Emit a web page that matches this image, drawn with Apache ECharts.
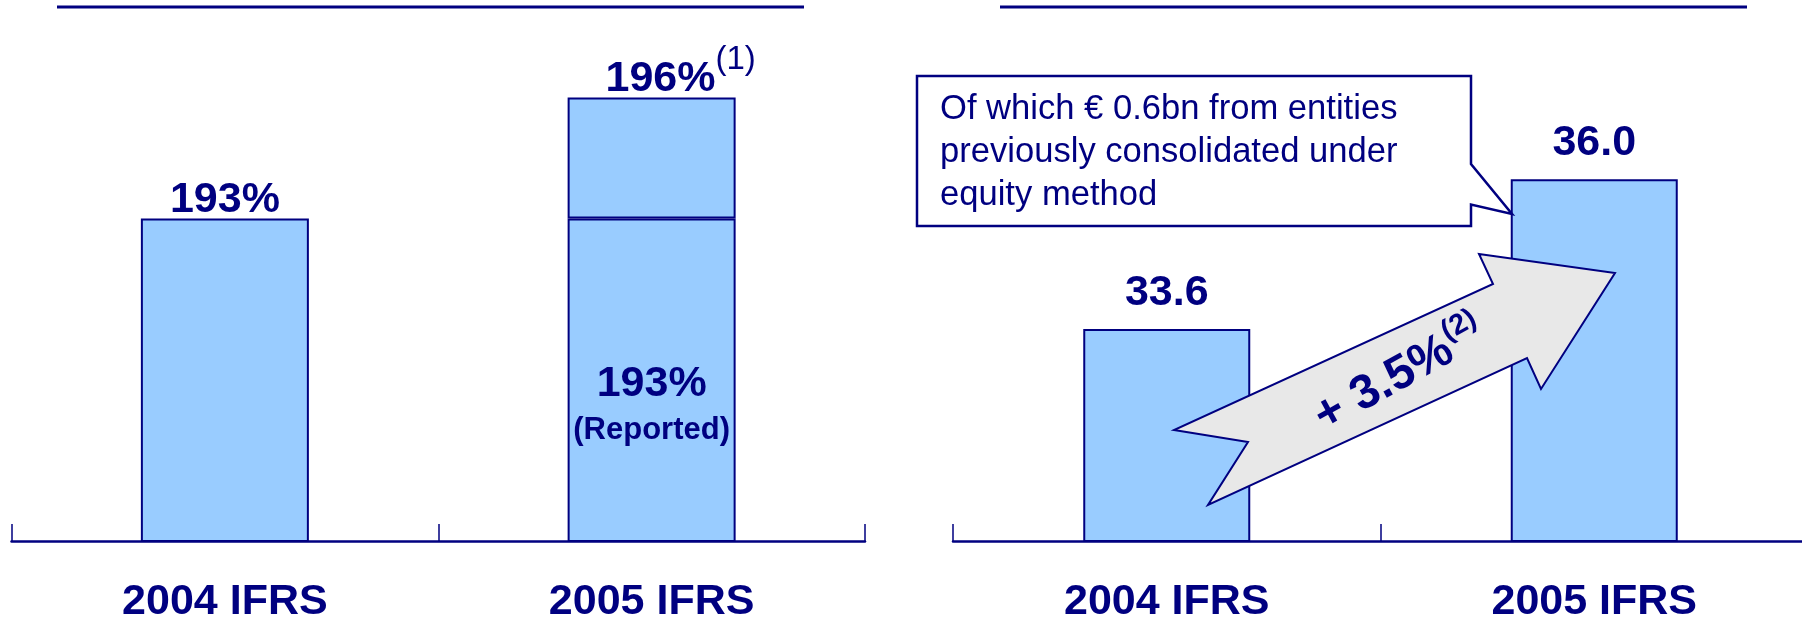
<!DOCTYPE html>
<html>
<head>
<meta charset="utf-8">
<title>Ratio and revenue 2004-2005 IFRS</title>
<script src="https://cdn.jsdelivr.net/npm/echarts@6.0.0/dist/echarts.min.js"></script>
<style>
  html, body { margin: 0; padding: 0; background: #fff; }
  #chart { width: 1802px; height: 619px; }
</style>
</head>
<body>
<div id="chart"></div>
<script>
// data
const categories = ['2004 IFRS', '2005 IFRS'];
const ratioReported = [193, 193];   // %
const ratioTotal = [193, 196];      // % incl. adjustment (1)
const revenue = [33.6, 36.0];       // € bn
const growthLabel = '+ 3.5%';
const growthNote = '(2)';
const ratioNote = '(1)';
const calloutLines = [
  'Of which € 0.6bn from entities',
  'previously consolidated under',
  'equity method'
];

const NAVY = '#000080';
const FILL = '#99ccff';
const FONT = '"Liberation Sans", Arial, sans-serif';

const chart = echarts.init(document.getElementById('chart'));

const barStyle = { color: FILL, borderColor: NAVY, borderWidth: 2 };
const bigLabel = { fontSize: 43, fontWeight: 'bold', color: NAVY, fontFamily: FONT };

const xAxisBase = {
  type: 'category',
  data: categories,
  axisLine: { lineStyle: { color: NAVY, width: 2.5 } },
  axisTick: { show: true, inside: true, length: 17, alignWithLabel: false, lineStyle: { color: NAVY, width: 1.5 } },
  axisLabel: Object.assign({ margin: 40 }, bigLabel)
};

// bottom (reported) part of the ratio bars
const reportedData = ratioReported.map((v, i) => {
  if (ratioTotal[i] > v) {
    return {
      value: v,
      label: {
        show: true,
        position: 'inside',
        offset: [0, 26],
        formatter: '{a|' + v + '%}\n{b|(Reported)}',
        rich: {
          a: Object.assign({ lineHeight: 48 }, bigLabel),
          b: { fontSize: 31, fontWeight: 'bold', color: NAVY, fontFamily: FONT, lineHeight: 44 }
        }
      }
    };
  }
  return {
    value: v,
    label: { show: true, position: 'top', distance: -3, formatter: v + '%', lineHeight: 42 }
  };
});

// top (extra) part of the ratio bars
const extraData = ratioTotal.map((v, i) => {
  const d = v - ratioReported[i];
  if (d <= 0) return '-';
  return {
    value: d,
    label: {
      show: true,
      position: 'top',
      distance: 5,
      offset: [29, 23],
      formatter: '{a|' + v + '%}{s|' + ratioNote + '}',
      rich: {
        a: Object.assign({ lineHeight: 72 }, bigLabel),
        s: { fontSize: 33, fontWeight: 'normal', color: NAVY, fontFamily: FONT, lineHeight: 72, verticalAlign: 'top' }
      }
    }
  };
});

const option = {
  animation: false,
  backgroundColor: '#fff',
  grid: [
    { left: 11.5, top: 17, width: 853.5, height: 524, containLabel: false, outerBoundsMode: 'none' },
    { left: 953, top: 17, width: 855, height: 524, containLabel: false, outerBoundsMode: 'none' }
  ],
  xAxis: [
    Object.assign({ gridIndex: 0 }, xAxisBase),
    Object.assign({ gridIndex: 1 }, xAxisBase)
  ],
  yAxis: [
    { gridIndex: 0, type: 'value', min: 185, max: 198, show: false, splitLine: { show: false } },
    { gridIndex: 1, type: 'value', min: 30.2, max: 38.6, show: false, splitLine: { show: false } }
  ],
  series: [
    {
      type: 'bar', xAxisIndex: 0, yAxisIndex: 0, stack: 'ratio',
      barWidth: 168, itemStyle: barStyle,
      label: bigLabel,
      data: reportedData
    },
    {
      type: 'bar', xAxisIndex: 0, yAxisIndex: 0, stack: 'ratio',
      barWidth: 168, itemStyle: barStyle,
      label: bigLabel,
      data: extraData
    },
    {
      type: 'bar', xAxisIndex: 1, yAxisIndex: 1,
      barWidth: 167, itemStyle: barStyle,
      label: Object.assign({
        show: true, position: 'top', distance: 15, lineHeight: 42,
        formatter: p => p.value.toFixed(1)
      }, bigLabel),
      data: revenue
    }
  ],
  graphic: [
    // header rules
    { type: 'line', shape: { x1: 57, y1: 7, x2: 804, y2: 7 }, style: { stroke: NAVY, lineWidth: 3 } },
    { type: 'line', shape: { x1: 1000, y1: 7, x2: 1747, y2: 7 }, style: { stroke: NAVY, lineWidth: 3 } },
    // callout box
    {
      type: 'polygon', z: 100,
      shape: { points: [[917, 76], [1471, 76], [1471, 164], [1512, 214], [1471, 204.5], [1471, 226], [917, 226]] },
      style: { fill: '#fff', stroke: NAVY, lineWidth: 2.5 }
    },
    {
      type: 'text', z: 101, x: 940, y: 88,
      style: {
        text: calloutLines.join('\n'), fill: NAVY, fontSize: 34.6, fontFamily: FONT,
        lineHeight: 43, align: 'left', verticalAlign: 'top'
      }
    },
    // growth arrow
    {
      type: 'polygon', z: 100,
      shape: { points: [[1174, 430], [1248, 442], [1208, 505], [1527, 358], [1541, 389], [1615, 273], [1479, 254], [1493, 284]] },
      style: { fill: '#e8e8e8', stroke: NAVY, lineWidth: 2 }
    },
    {
      type: 'group', z: 101, x: 1384, y: 384, rotation: 29 * Math.PI / 180,
      children: [
        {
          type: 'text', z: 101, x: 0, y: 0,
          style: { text: growthLabel, fill: NAVY, fontSize: 48, fontWeight: 'bold', fontFamily: FONT, align: 'center', verticalAlign: 'middle' }
        },
        {
          type: 'text', z: 101, x: 94, y: -15,
          style: { text: growthNote, fill: NAVY, fontSize: 29, fontWeight: 'bold', fontFamily: FONT, align: 'center', verticalAlign: 'middle' }
        }
      ]
    }
  ]
};

chart.setOption(option);
</script>
</body>
</html>
